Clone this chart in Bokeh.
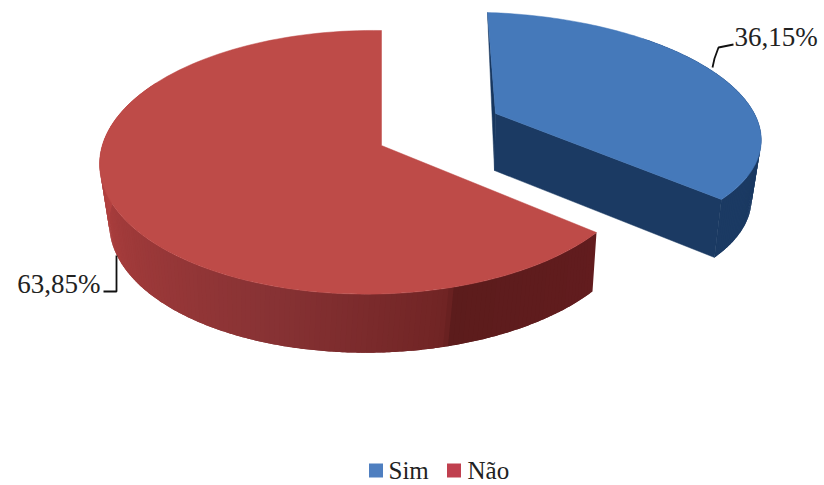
import numpy as np
from bokeh.core.properties import value
from bokeh.embed import file_html
from bokeh.plotting import figure
from bokeh.resources import INLINE

categories = ["Sim", "Não"]
shares = [36.15, 63.85]
top_colors = ["#4579BA", "#BE4B48"]
label_texts = ["36,15%", "63,85%"]

FONT = value("Liberation Serif")
W, H = 824, 485


def homography(pairs):
    """Projective map from the unit disc plane to the page, from four point pairs."""
    rows, rhs = [], []
    for (u, v), (x, y) in pairs:
        rows.append([u, v, 1, 0, 0, 0, -u * x, -v * x])
        rows.append([0, 0, 0, u, v, 1, -u * y, -v * y])
        rhs += [x, y]
    h = np.linalg.solve(np.array(rows, float), np.array(rhs, float))
    return np.append(h, 1).reshape(3, 3)


def project(m, u, v):
    pts = m @ np.vstack([u, v, np.ones_like(u)])
    return pts[0] / pts[2], pts[1] / pts[2]


def rim(m, a0, a1, n=120):
    t = np.radians(np.linspace(a0, a1, n))
    return project(m, np.sin(t), np.cos(t))


def disc_point(deg):
    t = np.radians(deg)
    return (np.sin(t), np.cos(t))


def mix(stops, deg):
    angles = [s[0] for s in stops]
    chans = [np.interp(deg, angles, [s[1][i] for s in stops]) for i in range(3)]
    return "#%02x%02x%02x" % tuple(int(round(c)) for c in chans)


split = 360 * shares[0] / sum(shares)

blue_top = homography([((0, 0), (495, 113)), (disc_point(0), (487, 12)),
                       (disc_point(90), (757, 120)), (disc_point(split), (721, 199))])
blue_low = homography([((0, 0), (494, 170)), (disc_point(0), (487, 64)),
                       (disc_point(90), (748, 180)), (disc_point(split), (714, 257))])
red_top = homography([((0, 0), (381, 145)), (disc_point(0), (381, 30)),
                      (disc_point(225), (166, 250)), (disc_point(split), (596, 232))])
red_low = homography([((0, 0), (379, 203)), (disc_point(0), (381, 86)),
                      (disc_point(225), (171, 308)), (disc_point(split), (592, 291))])

blue_wall = [(0, (23, 54, 94)), (130, (27, 58, 99))]
red_wall = [(130, (98, 28, 30)), (166, (92, 28, 28)), (167, (112, 36, 36)),
            (200, (135, 50, 52)), (240, (160, 58, 58)), (275, (184, 68, 66)), (360, (190, 74, 72))]

p = figure(width=W, height=H, x_range=(0, W), y_range=(H, 0), output_backend="svg",
           toolbar_location=None, min_border=0, background_fill_color="white",
           border_fill_color="white", outline_line_color=None)
p.axis.visible = False
p.grid.visible = False


def wall(top_m, low_m, a0, a1, stops, step=1.0):
    # Overlapping strips so the shading has no visible seams
    for s in np.arange(a0, a1, step):
        e = min(s + 2 * step, a1)
        xa, ya = rim(top_m, s, e, 5)
        xb, yb = rim(low_m, s, e, 5)
        c = mix(stops, s + step / 2)
        p.patch(np.r_[xa, xb[::-1]], np.r_[ya, yb[::-1]], fill_color=c, line_color=None)


# Red slice: outer wall first, then the top face over it
wall(red_top, red_low, split, 300, red_wall)
xr, yr = rim(red_top, split, 360)
cx, cy = project(red_top, np.array([0.0]), np.array([0.0]))
p.patch(np.r_[cx, xr], np.r_[cy, yr], fill_color=top_colors[1], line_color=top_colors[1], line_width=0.5)

# Blue slice: back sliver, outer wall, cut face, top face
sx0, sy0 = project(blue_top, *map(np.array, ([0.0], [1.0])))
cx, cy = project(blue_top, np.array([0.0]), np.array([0.0]))
lx, ly = project(blue_low, np.array([0.0]), np.array([0.0]))
p.patch(np.r_[sx0, cx, lx], np.r_[sy0, cy, ly], fill_color="#17365e", line_color="#17365e", line_width=0.5)
wall(blue_top, blue_low, 40, split, blue_wall)
ex, ey = rim(blue_top, split, split, 1)
fx, fy = rim(blue_low, split, split, 1)
p.patch(np.r_[cx, ex, fx, lx], np.r_[cy, ey, fy, ly], fill_color="#1b3a63", line_color="#1b3a63", line_width=0.5)
xb, yb = rim(blue_top, 0, split)
p.patch(np.r_[cx, xb], np.r_[cy, yb], fill_color=top_colors[0], line_color=top_colors[0], line_width=0.5)

# Leader lines and value labels
p.line([712, 714, 718, 733], [67, 58, 47, 44], line_color="#111111", line_width=1.8)
p.line([116, 116, 103], [255, 291, 291], line_color="#111111", line_width=1.8)
p.text([734], [36], text=[label_texts[0]], text_font=FONT, text_font_size="27px",
       text_color="#222222", text_align="left", text_baseline="middle")
p.text([100], [283], text=[label_texts[1]], text_font=FONT, text_font_size="27px",
       text_color="#222222", text_align="right", text_baseline="middle")

# Legend row
p.scatter([375.5, 453.5], [470, 470], size=14, marker="square", fill_color=["#4f7fc0", "#c0404f"], line_color=None)
p.text([388, 467], [470, 470], text=categories, text_font=FONT, text_font_size="25px",
       text_color="#222222", text_align="left", text_baseline="middle")

open("out.html", "w").write(file_html(p, INLINE))
